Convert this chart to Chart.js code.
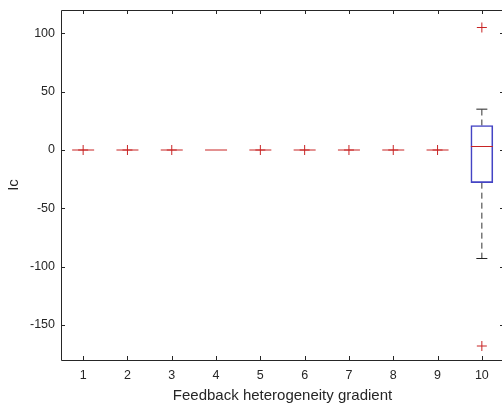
<!DOCTYPE html>
<html>
<head>
<meta charset="utf-8">
<script src="https://cdn.jsdelivr.net/npm/chart.js@4.4.0/dist/chart.umd.min.js"></script>
<style>
  html, body { margin: 0; padding: 0; background: #fff; overflow: hidden; }
  #wrap { width: 506px; height: 405px; }
</style>
</head>
<body>
<div id="wrap"><canvas id="chart"></canvas></div>
<script>
// boxplot summary per gradient level
const groups = [1, 2, 3, 4, 5, 6, 7, 8, 9, 10];
const q1 = [0, 0, 0, 0, 0, 0, 0, 0, 0, -28];
const q3 = [0, 0, 0, 0, 0, 0, 0, 0, 0, 21];
const medians = [0, 0, 0, 0, 0, 0, 0, 0, 0, 3];
const whiskLo = [0, 0, 0, 0, 0, 0, 0, 0, 0, -93];
const whiskHi = [0, 0, 0, 0, 0, 0, 0, 0, 0, 35];
const outliers = [[0], [0], [0], [], [0], [0], [0], [0], [0], [105, -168]];
const yTicks = [-150, -100, -50, 0, 50, 100];

const RED = "#c82424";
const BLUE = "#4444c4";
const AXIS = "#262626";
const FONT = "'Liberation Sans', Arial, sans-serif";

const boxData = [], medData = [], capData = [], whiskData = [], outData = [];
groups.forEach((g, i) => {
  if (q3[i] > q1[i]) boxData.push({ x: g, y: [q1[i], q3[i]] });
  medData.push({ x: g, y: medians[i] });
  if (whiskHi[i] > q3[i]) {
    whiskData.push({ x: g, y: q3[i] }, { x: g, y: whiskHi[i] }, { x: g, y: null });
    capData.push({ x: g, y: whiskHi[i] });
  }
  if (whiskLo[i] < q1[i]) {
    whiskData.push({ x: g, y: q1[i] }, { x: g, y: whiskLo[i] }, { x: g, y: null });
    capData.push({ x: g, y: whiskLo[i] });
  }
  outliers[i].forEach((v) => outData.push({ x: g, y: v }));
});

// box frame with inward ticks on all four sides (MATLAB style)
const matlabAxes = {
  id: "matlabAxes",
  afterDraw(chart) {
    const { ctx, chartArea: a, scales } = chart;
    ctx.save();
    ctx.strokeStyle = AXIS;
    ctx.lineWidth = 1;
    ctx.beginPath();
    ctx.rect(Math.round(a.left) + 0.5, Math.round(a.top) + 0.5,
      Math.round(a.right - a.left), Math.round(a.bottom - a.top));
    const t = 4;
    scales.x.ticks.forEach((tk) => {
      const px = Math.round(scales.x.getPixelForValue(tk.value)) + 0.5;
      ctx.moveTo(px, a.bottom); ctx.lineTo(px, a.bottom - t);
      ctx.moveTo(px, a.top); ctx.lineTo(px, a.top + t);
    });
    yTicks.forEach((v) => {
      const py = Math.round(scales.y.getPixelForValue(v)) + 0.5;
      ctx.moveTo(a.left, py); ctx.lineTo(a.left + t, py);
      ctx.moveTo(a.right, py); ctx.lineTo(a.right - t, py);
    });
    ctx.stroke();
    ctx.restore();
  },
};

new Chart(document.getElementById("chart"), {
  data: {
    datasets: [
      {
        type: "line",
        data: whiskData,
        borderColor: "#333",
        borderWidth: 1,
        borderDash: [6, 4],
        pointRadius: 0,
        spanGaps: false,
        order: 5,
      },
      {
        type: "bar",
        data: boxData,
        backgroundColor: "rgba(0,0,0,0)",
        borderColor: BLUE,
        borderWidth: 1,
        borderSkipped: false,
        barThickness: 22,
        order: 4,
      },
      {
        type: "scatter",
        data: capData,
        pointStyle: "line",
        pointRadius: 5.5,
        borderColor: "#222",
        borderWidth: 1,
        order: 3,
      },
      {
        type: "scatter",
        data: medData,
        pointStyle: "line",
        pointRadius: 11,
        borderColor: RED,
        borderWidth: 1,
        order: 2,
      },
      {
        type: "scatter",
        data: outData,
        pointStyle: "cross",
        pointRadius: 5,
        borderColor: RED,
        borderWidth: 1,
        order: 1,
      },
    ],
  },
  options: {
    responsive: true,
    maintainAspectRatio: false,
    animation: false,
    layout: { autoPadding: false, padding: { top: 10, right: 2, left: 0, bottom: 0 } },
    plugins: { legend: { display: false }, tooltip: { enabled: false } },
    scales: {
      x: {
        type: "linear",
        offset: false,
        min: 0.5,
        max: 10.5,
        afterBuildTicks: (s) => { s.ticks = groups.map((v) => ({ value: v })); },
        afterFit: (s) => { s.height = 45; s.paddingLeft = 0; s.paddingRight = 0; },
        grid: { display: false, drawTicks: false },
        border: { display: false },
        ticks: { color: AXIS, font: { family: FONT, size: 12.5 }, padding: 8 },
        title: {
          display: true,
          text: "Feedback heterogeneity gradient",
          color: AXIS,
          font: { family: FONT, size: 15 },
          padding: { top: 0, bottom: 0 },
        },
      },
      y: {
        min: -180,
        max: 120,
        afterBuildTicks: (s) => { s.ticks = yTicks.map((v) => ({ value: v })); },
        afterFit: (s) => { s.width = 61; s.paddingTop = 0; s.paddingBottom = 0; },
        grid: { display: false, drawTicks: false },
        border: { display: false },
        ticks: { color: AXIS, font: { family: FONT, size: 12.5 }, padding: 6 },
        title: {
          display: true,
          text: "Ic",
          color: AXIS,
          font: { family: FONT, size: 15 },
          padding: { top: 5, bottom: 0 },
        },
      },
    },
  },
  plugins: [matlabAxes],
});
</script>
</body>
</html>
